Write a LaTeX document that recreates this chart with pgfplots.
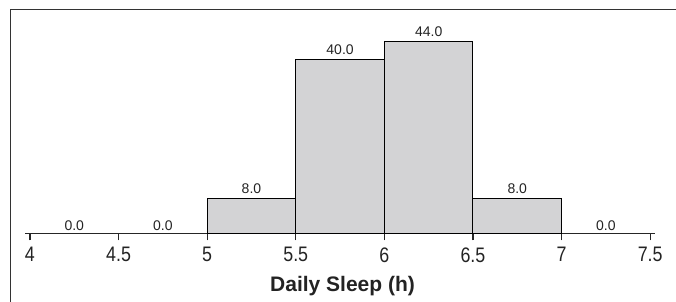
\documentclass[border=0pt]{standalone}
\usepackage{pgfplots}
\pgfplotsset{compat=1.18}
\usepackage{fontspec}
\setmainfont{Liberation Sans}
\newfontfamily\condensed[FakeStretch=0.85]{Liberation Sans}
\definecolor{barfill}{RGB}{211,211,213}
\definecolor{txt}{RGB}{35,35,35}
\begin{document}
\begin{tikzpicture}
\begin{axis}[
  at={(0,0)}, anchor=south west, scale only axis,
  x=177.2pt, y=4.35pt,
  xmin=3.972, xmax=7.528, ymin=0, ymax=50,
  clip=false,
  /pgf/number format/assume math mode=true,
  axis x line*=bottom, axis y line=none,
  x axis line style={line width=1.4pt, color=black!85},
  xtick={4,4.5,5,5.5,6,6.5,7,7.5},
  xticklabels={4,4.5,5,5.5,6,6.5,7,7.5},
  ytick=\empty,
  tick align=outside, major tick length=7pt,
  tick style={line width=1.2pt, color=black!85},
  xticklabel style={font=\condensed\fontsize{21}{21}\selectfont, text=txt, inner sep=0pt, yshift=-7pt},
  xlabel={Daily Sleep (h)},
  xlabel style={font=\bfseries\fontsize{21}{21}\selectfont, text=txt, at={(axis description cs:0.5,0)}, anchor=base, yshift=-58.4pt, xshift=2.5pt, inner sep=0pt},
]
\addplot[ybar, bar width=0.5, bar shift=0pt, fill=barfill, draw=black, line width=1pt,
  point meta=y,
  nodes near coords={\pgfmathprintnumber[fixed,fixed zerofill,precision=1,assume math mode=true]{\pgfplotspointmeta}},
  every node near coord/.append style={font=\fontsize{14}{14}\selectfont, text=txt, inner sep=0pt, anchor=south, yshift=4.5pt}]
  coordinates {(5.25,8) (5.75,40) (6.25,44) (6.75,8)};
\addplot[ybar, bar width=0.5, bar shift=0pt, draw=none, fill=none,
  point meta=y,
  nodes near coords={\pgfmathprintnumber[fixed,fixed zerofill,precision=1,assume math mode=true]{\pgfplotspointmeta}},
  every node near coord/.append style={font=\fontsize{14}{14}\selectfont, text=txt, inner sep=0pt, anchor=south, yshift=2.5pt}]
  coordinates {(4.25,0) (4.75,0) (7.25,0)};
\end{axis}
\draw[line width=1.5pt, color=black!80] (-14.5pt,-80pt) -- (-14.5pt,223.8pt) -- (700pt,223.8pt);
\pgfresetboundingbox
\useasboundingbox (-25pt,-67.7pt) rectangle (651pt,233.3pt);
\end{tikzpicture}
\end{document}
